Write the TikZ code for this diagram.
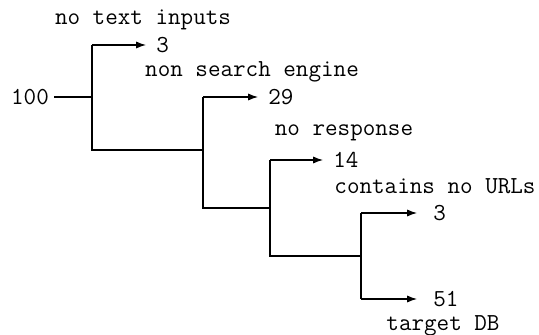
\documentclass[tikz,border=0pt]{standalone}
\usetikzlibrary{arrows.meta}
\begin{document}
\begin{tikzpicture}[x=0.5pt,y=-0.5pt,
  every node/.style={font=\ttfamily\fontsize{12.2}{13}\selectfont, inner sep=0pt},
  wire/.style={line width=0.55pt, black},
  arr/.style={wire, -{Latex[length=5pt,width=3.6pt]}},
  num/.style={anchor=west, inner xsep=5pt},
  numwide/.style={anchor=west, inner xsep=8pt},
  lbl/.style={anchor=center}]
\useasboundingbox (0,0) rectangle (539,335);
% start
\node (n100) at (30,97) {100};
\coordinate (j1) at (92,97);
\coordinate (j1t) at (92,45);
\coordinate (j1b) at (92,150);
% level 2
\coordinate (j2) at (203,97);
\coordinate (j2m) at (203,150);
\coordinate (j2b) at (203,208);
% level 3
\coordinate (j3t) at (270,160);
\coordinate (j3m) at (270,208);
\coordinate (j3b) at (270,256);
% level 4
\coordinate (j4t) at (361,213);
\coordinate (j4m) at (361,256);
\coordinate (j4b) at (361,299);
% result nodes
\node[num] (r1) at (146,45) {3};
\node[num] (r2) at (258,97) {29};
\node[num] (r3) at (323,160) {14};
\node[numwide] (r4) at (417,213) {3};
\node[numwide] (r5) at (417,299) {51};
% labels
\node[lbl] (l1) at (143,20) {no text inputs};
\node[lbl] (l2) at (252,72) {non search engine};
\node[lbl] (l3) at (344,133) {no response};
\node[lbl] (l4) at (435,186) {contains no URLs};
\node[lbl] (l5) at (443,326) {target DB};
% wires
\draw[wire] ([xshift=2.5pt]n100.east) -- (j1);
\draw[wire] (j1t) -- (j1b) -- (j2m);
\draw[arr] (j1t) -- (r1.west);
\draw[wire] (j2) -- (j2b) -- (j3m);
\draw[arr] (j2) -- (r2.west);
\draw[wire] (j3t) -- (j3b) -- (j4m);
\draw[arr] (j3t) -- (r3.west);
\draw[wire] (j4t) -- (j4b);
\draw[arr] (j4t) -- (r4.west);
\draw[arr] (j4b) -- (r5.west);
\end{tikzpicture}
\end{document}
